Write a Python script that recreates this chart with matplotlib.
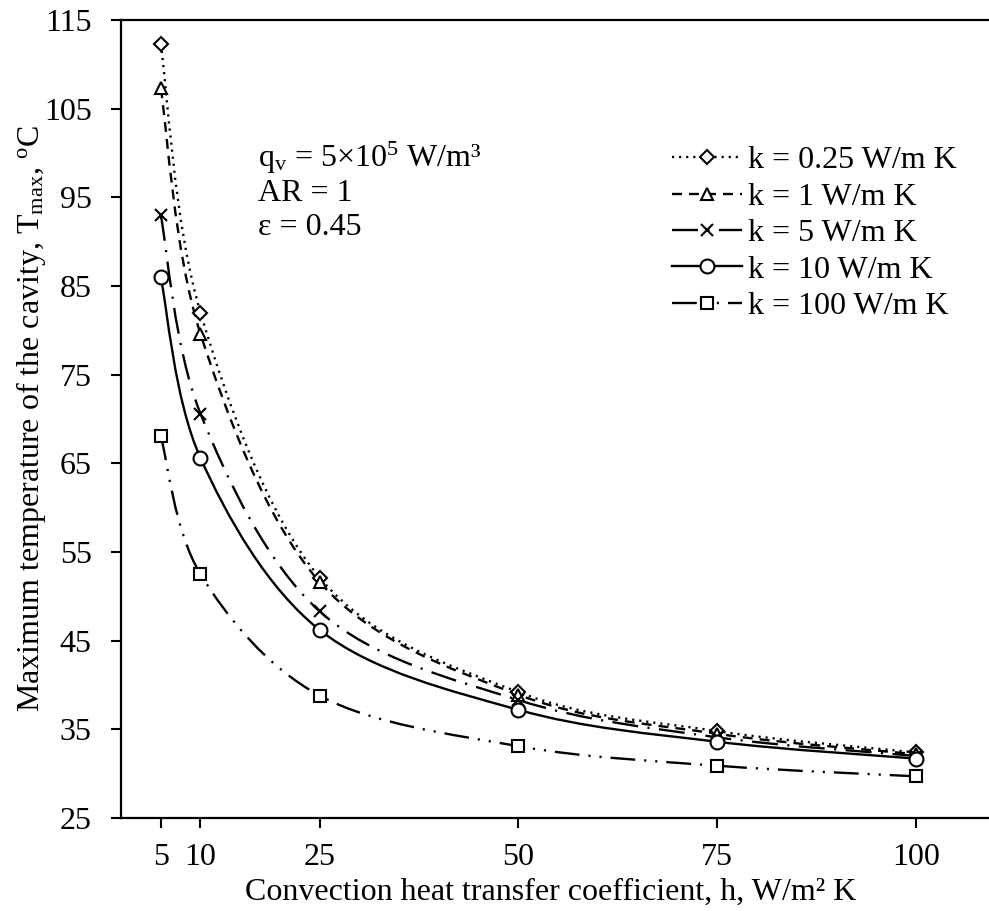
import matplotlib
matplotlib.use("Agg")
import matplotlib.pyplot as plt
import numpy as np
from matplotlib.path import Path
from matplotlib.patches import PathPatch
from matplotlib.lines import Line2D

plt.rcParams['font.family'] = ['Liberation Serif', 'DejaVu Serif']
plt.rcParams['mathtext.fontset'] = 'custom'
plt.rcParams['mathtext.rm'] = 'Liberation Serif'
plt.rcParams['mathtext.it'] = 'Liberation Serif:italic'
plt.rcParams['font.size'] = 23

# convection coefficient h (W/m2 K)
h = [5, 10, 25, 50, 75, 100]

# maximum cavity temperature (C) for each thermal conductivity
T_k025 = [112.3, 82.0, 52.1, 39.2, 34.8, 32.4]
T_k1 = [107.3, 79.6, 51.6, 38.9, 34.5, 32.2]
T_k5 = [93.0, 70.6, 48.3, 38.3, 34.1, 32.0]
T_k10 = [86.0, 65.6, 46.2, 37.2, 33.6, 31.7]
T_k100 = [68.1, 52.5, 38.8, 33.1, 30.9, 29.7]

labels = ["k = 0.25 W/m K", "k = 1 W/m K", "k = 5 W/m K",
          "k = 10 W/m K", "k = 100 W/m K"]

LW = 1.7


def smooth_path(x, y):
    # Catmull-Rom style cubic Bezier through the points (spreadsheet "smoothed line")
    p = np.column_stack([x, y]).astype(float)
    ext = np.vstack([p[0], p, p[-1]])
    verts = [p[0]]
    codes = [Path.MOVETO]
    for i in range(len(p) - 1):
        p0, p1, p2, p3 = ext[i], ext[i + 1], ext[i + 2], ext[i + 3]
        c1 = p1 + (p2 - p0) / 6.0
        c2 = p2 - (p3 - p1) / 6.0
        verts += [c1, c2, p2]
        codes += [Path.CURVE4] * 3
    return Path(verts, codes)


# dash patterns are in multiples of the line width
series = [
    (T_k025, (0, (0.9, 2.1)), 'D', 7.5),
    (T_k1, (0, (4.2, 3.0)), '^', 9),
    (T_k5, (0, (11, 4, 0.9, 4)), 'x', 9),
    (T_k10, '-', 'o', 10),
    (T_k100, (0, (10.5, 3.8, 0.9, 3.8, 0.9, 3.8)), 's', 8.5),
]

fig = plt.figure(figsize=(9.89, 9.11), dpi=100)
ax = fig.add_axes([121 / 989, 93 / 911, 868 / 989, 798 / 911])

handles = []
for T, ls, mk, ms in series:
    patch = PathPatch(smooth_path(h, T), facecolor='none', edgecolor='black',
                      linewidth=LW, linestyle=ls, zorder=2)
    ax.add_patch(patch)
    ax.plot(h, T, linestyle='none', marker=mk, markersize=ms,
            markerfacecolor='white', markeredgecolor='black',
            markeredgewidth=1.5, zorder=3)
    handles.append(Line2D([], [], color='black', linewidth=LW, linestyle=ls,
                          marker=mk, markersize=ms, markerfacecolor='white',
                          markeredgecolor='black', markeredgewidth=1.5))

ax.set_xlim(0, 109.2)
ax.set_ylim(25, 115)
ax.set_xticks(h)
ax.set_yticks(np.arange(25, 116, 10))

ax.spines['right'].set_visible(False)
for s in ['left', 'top', 'bottom']:
    ax.spines[s].set_linewidth(1.6)
ax.tick_params(axis='both', direction='out', length=7.5, width=1.5)
ax.tick_params(axis='x', pad=10.5)
ax.tick_params(axis='y', pad=13.5)

ax.set_xlabel("Convection heat transfer coefficient, h, W/m² K", labelpad=4)
ax.xaxis.label.set_x(0.495)
ax.set_ylabel(r"Maximum temperature of the cavity, T$_{\mathrm{max}}$, $^{\mathrm{o}}$C")
ax.yaxis.set_label_coords(-0.084, 0.5)

ax.text(0.158, 0.816, r"q$_{\mathrm{v}}$ = 5×10$^{5}$ W/m³", transform=ax.transAxes,
        va='baseline', ha='left')
ax.text(0.158, 0.773, "AR = 1", transform=ax.transAxes, va='baseline', ha='left')
ax.text(0.158, 0.731, "ε = 0.45", transform=ax.transAxes, va='baseline', ha='left')

ax.legend(handles, labels, loc='upper left', bbox_to_anchor=(0.635, 0.842),
          frameon=False, handlelength=2.2, handletextpad=0.18,
          labelspacing=0.22, borderpad=0, borderaxespad=0)

fig.savefig("out.png", dpi=100)
